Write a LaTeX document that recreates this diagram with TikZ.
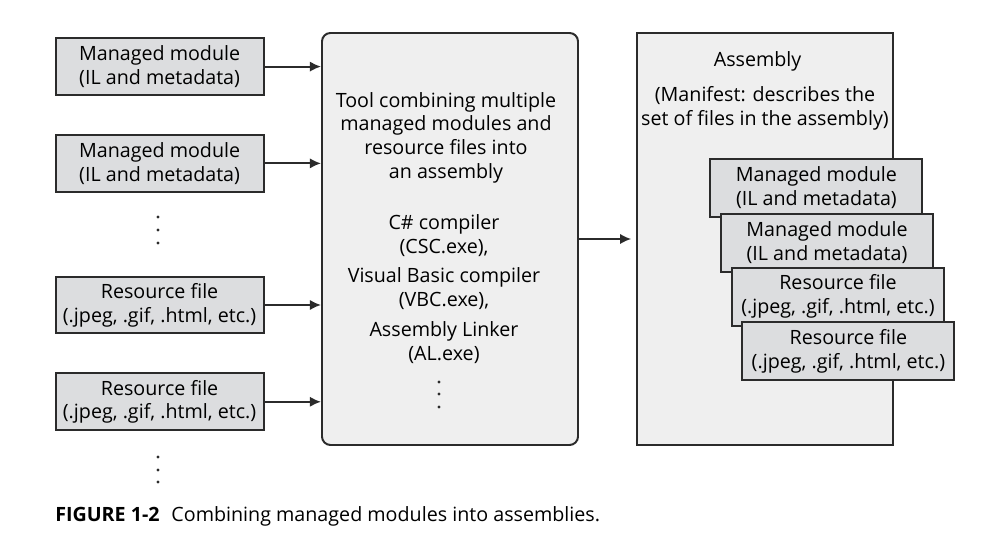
\documentclass[tikz,border=0pt]{standalone}
\usepackage{fontspec}
\setmainfont{Open Sans}
\usepackage{xcolor}
\usepackage{tikz}
\usetikzlibrary{calc}
\usetikzlibrary {arrows.meta}
\definecolor{edge}{HTML}{2b2b2b}
\definecolor{modfill}{HTML}{dcdddf}
\definecolor{boxfill}{HTML}{efefef}

\begin{document}
\begin{tikzpicture}[>={Latex[length=2.8mm,width=2.6mm]},font=\fontsize{14}{17}\selectfont]
\tikzstyle{mod}=[draw=edge,fill=modfill,line width=1.4pt,shape=rectangle,minimum width=5.2cm,minimum height=1.42cm,inner sep=0pt,align=center]
\tikzstyle{stk}=[mod,minimum width=5.3cm,minimum height=1.45cm]
\tikzstyle{big}=[draw=edge,fill=boxfill,line width=1.4pt,minimum width=6.4cm,minimum height=10.3cm]
\tikzstyle{txt}=[align=center,inner sep=0pt]
\tikzstyle{arr}=[->,draw=edge,line width=1.4pt]
\useasboundingbox (0,0) rectangle (25.1,13.575);

\node[mod](mod1) at (3.99,11.91){Managed module\\(IL and metadata)};
\node[mod](mod2) at (3.99,9.49){Managed module\\(IL and metadata)};
\node[mod](res1) at (3.99,5.95){Resource file\\(.jpeg, .gif, .html, etc.)};
\node[mod](res2) at (3.99,3.53){Resource file\\(.jpeg, .gif, .html, etc.)};
%
\node[big,rounded corners=6pt](tool) at (11.25,7.6){};
\node[txt](toolTxt) at (11.15,10.13){Tool combining multiple\\managed modules and\\resource files into\\an assembly};
\node[txt](compTxt) at (11.1,6.35){C\# compiler\\(CSC.exe),\\[4pt]Visual Basic compiler\\(VBC.exe),\\[4pt]Assembly Linker\\(AL.exe)};
%
\node[big](asm) at (19.125,7.6){};
\node[txt](asmTitle) at (18.94,12.03){Assembly};
\node[txt](asmMan) at (19.125,10.86){(Manifest: describes the\\set of files in the assembly)};
%
\node[stk](smod1) at (20.41,8.875){Managed module\\(IL and metadata)};
\node[stk](smod2) at (20.675,7.5){Managed module\\(IL and metadata)};
\node[stk](sres1) at (20.95,6.16){Resource file\\(.jpeg, .gif, .html, etc.)};
\node[stk](sres2) at (21.21,4.79){Resource file\\(.jpeg, .gif, .html, etc.)};
%
\draw[arr] (mod1) -- (mod1 -| tool.west);
\draw[arr] (mod2) -- (mod2 -| tool.west);
\draw[arr] (res1) -- (res1 -| tool.west);
\draw[arr] (res2) -- (res2 -| tool.west);
\draw[arr,shorten >=0.12cm] (tool) -- (asm);
%
\foreach \y in {8.15,7.825,7.5} \fill[edge] (3.95,\y) circle (0.04);
\foreach \y in {2.15,1.825,1.525} \fill[edge] (3.95,\y) circle (0.04);
\foreach \y in {4.025,3.725,3.4} \fill[edge] (10.975,\y) circle (0.04);
%
\node[anchor=west,inner sep=0pt](caption) at (1.375,0.66){\textbf{FIGURE 1-2}\hspace{0.6em}Combining managed modules into assemblies.};
\end{tikzpicture}
\end{document}
